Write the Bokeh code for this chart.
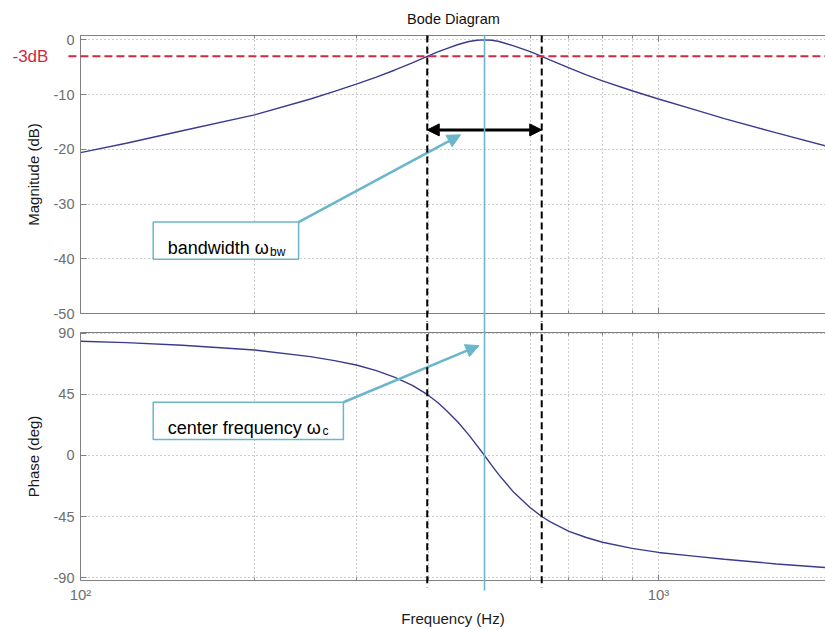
from bokeh.plotting import figure
from bokeh.layouts import column
from bokeh.models import Range1d, FixedTicker, LogAxis, Arrow, NormalHead, BoxAnnotation, Label
from bokeh.core.properties import value
from bokeh.embed import file_html
from bokeh.resources import INLINE

# ---- data ----
freq_hz = [100, 120, 150, 200, 250, 275, 300, 325, 350, 375, 398, 415, 430, 450, 470, 485, 500,
           515, 530, 560, 600, 628, 650, 700, 750, 800, 900, 1000, 1150, 1300, 1600, 2000]
mag_db = [-20.6, -18.9, -16.6, -13.7, -10.8, -9.4, -8.1, -6.8, -5.5, -4.2, -3.0, -2.2, -1.6,
          -0.85, -0.3, -0.07, 0.0, -0.07, -0.3, -1.05, -2.15, -3.0, -3.7, -5.1, -6.4, -7.5,
          -9.3, -10.8, -12.7, -14.4, -17.0, -19.7]
phase_deg = [84.3, 83.2, 81.3, 77.8, 72.9, 70.0, 66.7, 62.6, 57.6, 51.7, 45.0, 39.1, 33.0,
             24.5, 15.0, 7.5, 0.0, -7.5, -14.5, -26.5, -38.5, -45.0, -49.0, -56.0, -60.5,
             -64.0, -68.5, -71.5, -74.2, -76.5, -80.0, -83.0]

f_center = 500
f_band = [398, 628]
level_3db = -3
mag_ticks = [-50, -40, -30, -20, -10, 0]
phase_ticks = [-90, -45, 0, 45, 90]
freq_major = [100, 1000]
freq_minor = [200, 300, 400, 500, 600, 700, 800, 900, 2000]
freq_labels = {100: "10\u00b2", 1000: "10\u00b3"}

FONT = "Liberation Sans"
GRID = "#9c9c9c"
AX = "#808080"
TICKTXT = "#6e6e6e"
CURVE = "#3a3a8e"
CYAN = "#6cb6cc"
RED = "#cf2a40"

X_RANGE = Range1d(100, 1945)


def style_axis(a, labels):
    a.axis_line_color = AX
    a.axis_line_width = 1
    a.major_tick_line_color = AX
    a.major_tick_in = 6
    a.major_tick_out = 0
    a.minor_tick_line_color = AX
    a.minor_tick_in = 3
    a.minor_tick_out = 0
    a.major_label_text_font = FONT
    if labels:
        a.major_label_text_color = TICKTXT
        a.major_label_text_font_size = "14.5px"
        a.major_label_standoff = 6
    else:
        a.major_label_text_alpha = 0.0
        a.major_label_text_font_size = "1px"
        a.major_label_standoff = 0
    a.axis_label_text_font = FONT
    a.axis_label_text_font_style = "normal"
    a.axis_label_text_font_size = "15px"
    a.axis_label_text_color = "#1a1a1a"


def make_fig(height, y_range, yticks, ylabel, border_top, border_bottom, xlabels):
    p = figure(width=825, height=height, x_axis_type="log", x_range=X_RANGE,
               y_range=y_range, output_backend="svg", toolbar_location=None,
               min_border_left=80, min_border_right=0,
               min_border_top=border_top, min_border_bottom=border_bottom)
    p.outline_line_color = None
    xt = FixedTicker(ticks=freq_major, minor_ticks=freq_minor)
    yt = FixedTicker(ticks=yticks)
    p.xaxis[0].ticker = xt
    p.xgrid[0].ticker = xt
    p.yaxis[0].ticker = yt
    p.ygrid[0].ticker = yt
    style_axis(p.xaxis[0], xlabels)
    style_axis(p.yaxis[0], True)
    p.yaxis[0].major_label_overrides = {t: str(t) for t in yticks}
    p.yaxis[0].minor_tick_line_color = None
    p.yaxis[0].axis_label = ylabel
    p.yaxis[0].axis_label_standoff = 9
    if xlabels:
        p.xaxis[0].major_label_overrides = freq_labels
        p.xaxis[0].major_label_text_font_size = "15px"
        p.xaxis[0].major_label_standoff = 5
        p.xaxis[0].axis_label = "Frequency (Hz)"
        p.xaxis[0].axis_label_standoff = 4
    top = LogAxis(ticker=xt)
    style_axis(top, False)
    p.add_layout(top, "above")
    for g in (p.xgrid[0], p.ygrid[0]):
        g.grid_line_color = GRID
        g.grid_line_dash = "1 3"
        g.grid_line_width = 1
    p.xgrid[0].minor_grid_line_color = GRID
    p.xgrid[0].minor_grid_line_dash = "1 3"
    return p


# ---------------- magnitude ----------------
p1 = make_fig(322, Range1d(-50, 0.8), mag_ticks, "Magnitude (dB)", 35, 9, False)
p1.line(freq_hz, mag_db, line_color=CURVE, line_width=1.4)

# title (drawn above the frame, unclipped)
p1.text(x=[441.8], y=[3.84], text=["Bode Diagram"], text_align="center",
        text_baseline="middle", text_font=value(FONT), text_font_size="14.5px",
        text_color="#111111", level="overlay")

# -3 dB level
p1.segment(x0=[95.3], y0=[level_3db], x1=[3000], y1=[level_3db], line_color=RED,
           line_width=2, line_dash="8 4", level="overlay")
p1.text(x=[88], y=[level_3db], text=["-3dB"], text_align="right",
        text_baseline="middle", text_font=value(FONT), text_font_size="17px",
        text_color=RED, level="overlay")

# band edges and centre
p1.segment(x0=f_band, y0=[0.8, 0.8], x1=f_band, y1=[-60, -60], line_color="black",
           line_width=2, line_dash="7 4", level="overlay")
p1.segment(x0=[f_center], y0=[0.8], x1=[f_center], y1=[-60], line_color=CYAN,
           line_width=1.6, level="overlay")

# bandwidth double arrow
p1.add_layout(Arrow(start=NormalHead(size=12, fill_color="black", line_color="black"),
                    end=NormalHead(size=12, fill_color="black", line_color="black"),
                    x_start=f_band[0], y_start=-16.45, x_end=f_band[1], y_end=-16.45,
                    line_color="black", line_width=3))

# bandwidth callout
p1.add_layout(BoxAnnotation(left=133.6, right=238.4, top=-33.3, bottom=-40.1,
                            fill_color="white", fill_alpha=1.0,
                            line_color=CYAN, line_width=1.5, line_alpha=1.0))
p1.add_layout(Arrow(end=NormalHead(size=13, fill_color=CYAN, line_color=CYAN),
                    x_start=238.4, y_start=-33.3, x_end=454.4, y_end=-17.35,
                    line_color=CYAN, line_width=2.6))
p1.add_layout(Label(x=141.5, y=-38.07, text="bandwidth \u03c9", text_align="left",
                    text_baseline="alphabetic", text_font=FONT, text_font_size="18px",
                    text_color="black"))
p1.add_layout(Label(x=212.8, y=-38.8, text="bw", text_align="left",
                    text_baseline="alphabetic", text_font=FONT, text_font_size="12px",
                    text_color="black"))

# ---------------- phase ----------------
p2 = make_fig(308, Range1d(-92.2, 90.7), phase_ticks, "Phase (deg)", 10, 50, True)
p2.line(freq_hz, phase_deg, line_color=CURVE, line_width=1.4)

p2.segment(x0=f_band, y0=[130, 130], x1=f_band, y1=[-97.4, -97.4], line_color="black",
           line_width=2, line_dash="7 4", level="overlay")
p2.segment(x0=[f_center], y0=[130], x1=[f_center], y1=[-99.6], line_color=CYAN,
           line_width=1.6, level="overlay")

p2.add_layout(BoxAnnotation(left=133.6, right=285.0, top=39.3, bottom=11.8,
                            fill_color="white", fill_alpha=1.0,
                            line_color=CYAN, line_width=1.5, line_alpha=1.0))
p2.add_layout(Arrow(end=NormalHead(size=13, fill_color=CYAN, line_color=CYAN),
                    x_start=285.0, y_start=39.3, x_end=489.0, y_end=81.0,
                    line_color=CYAN, line_width=2.6))
p2.add_layout(Label(x=141.5, y=20.1, text="center frequency \u03c9", text_align="left",
                    text_baseline="alphabetic", text_font=FONT, text_font_size="18px",
                    text_color="black"))
p2.add_layout(Label(x=262.2, y=17.7, text="c", text_align="left",
                    text_baseline="alphabetic", text_font=FONT, text_font_size="12px",
                    text_color="black"))

layout = column(p1, p2)
open("out.html", "w").write(file_html(layout, INLINE))
